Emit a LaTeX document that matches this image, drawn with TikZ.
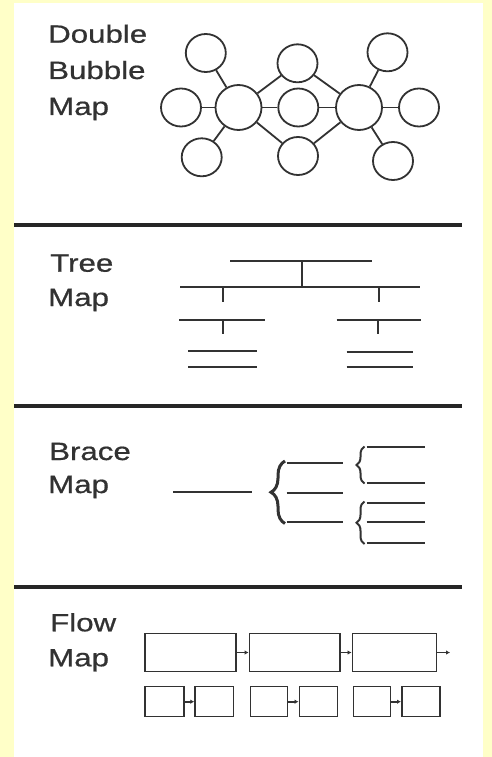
\documentclass[tikz,border=0pt]{standalone}
\usepackage{fontspec}
\setmainfont{Liberation Sans}
\newfontfamily\lblfont[FakeBold=0.6]{Liberation Sans}
\usepackage{graphicx}
\usetikzlibrary{shapes.geometric,decorations.pathreplacing,arrows.meta}
\definecolor{bgy}{RGB}{255,255,200}
\definecolor{ink}{RGB}{50,50,50}
\begin{document}
\begin{tikzpicture}[x=1pt,y=-1pt,
  lbl/.style={anchor=base west, inner sep=0, font=\lblfont\fontsize{25}{30}\selectfont, text=ink},
  bub/.style={ellipse, draw=ink, line width=1.8pt, inner sep=0, minimum width=40pt, minimum height=38pt},
  bigbub/.style={bub, minimum width=46pt, minimum height=45pt},
  conn/.style={draw=ink, line width=1.8pt},
  sepline/.style={line width=4.5pt, draw=black!85},
  treeline/.style={line width=1.8pt, draw=ink},
  bracepath/.style={draw=ink, decorate, decoration={brace, amplitude=#1}},
  flowbox/.style={rectangle, draw=ink, line width=1.5pt, inner sep=0},
  flowarrow/.style={draw=ink, line width=1.8pt, -{Latex[length=4pt,width=4.5pt]}}
  ]
\useasboundingbox (0,0) rectangle (492,757);
\fill[bgy] (0,0) rectangle (492,757);
\fill[white] (14,3) rectangle (483,757);

% ---------- Double Bubble Map ----------
\node[lbl] (db1) at (48,42.7) {\scalebox{1.25}[1]{Double}};
\node[lbl] (db2) at (48,79) {\scalebox{1.25}[1]{Bubble}};
\node[lbl] (db3) at (48,115) {\scalebox{1.25}[1]{Map}};

\node[bigbub] (cl) at (238.5,107.5) {};
\node[bigbub] (cr) at (359,107.5) {};
\node[bub] (mc) at (298.3,107.5) {};
\node[bub] (mt) at (297.5,63.3) {};
\node[bub] (mb) at (298,156) {};
\node[bub] (lt) at (205.8,53) {};
\node[bub] (lm) at (181,107.5) {};
\node[bub] (lb) at (201.7,157.3) {};
\node[bub] (rt) at (387.5,52.3) {};
\node[bub] (rm) at (419,107.5) {};
\node[bub] (rb) at (393,161) {};
\foreach \a in {lt,lm,lb,mt,mc,mb}{\draw[conn] (cl) -- (\a);}
\foreach \a in {rt,rm,rb,mt,mc,mb}{\draw[conn] (cr) -- (\a);}

% ---------- separators ----------
\draw[sepline] (14,225) -- (462,225);
\draw[sepline] (14,406) -- (462,406);
\draw[sepline] (14,587) -- (462,587);

% ---------- Tree Map ----------
\node[lbl] (tr1) at (50,271.7) {\scalebox{1.25}[1]{Tree}};
\node[lbl] (tr2) at (48,306) {\scalebox{1.25}[1]{Map}};
\draw[treeline] (230,261) -- (372,261);
\draw[treeline] (302,261) -- (302,287);
\draw[treeline] (180,287) -- (420,287);
\draw[treeline] (223.3,287) -- (223.3,301.7);
\draw[treeline] (379.3,287) -- (379.3,301.7);
\draw[treeline] (179.3,320) -- (265,320);
\draw[treeline] (223.3,320) -- (223.3,334);
\draw[treeline] (336.7,320) -- (420.7,320);
\draw[treeline] (378.3,320) -- (378.3,334);
\draw[treeline] (188.3,351.3) -- (257.3,351.3);
\draw[treeline] (188.3,366.7) -- (257.3,366.7);
\draw[treeline] (346.7,352) -- (413.3,352);
\draw[treeline] (346.7,367.3) -- (413.3,367.3);

% ---------- Brace Map ----------
\node[lbl] (br1) at (49,460) {\scalebox{1.25}[1]{Brace}};
\node[lbl] (br2) at (48,493) {\scalebox{1.25}[1]{Map}};
\draw[treeline] (173.3,491.7) -- (251.7,491.7);
\draw[bracepath=14pt, line width=3pt] (285,523.5) -- (285,461);
\draw[treeline] (286.7,462.7) -- (343.3,462.7);
\draw[treeline] (286.7,492.7) -- (343.3,492.7);
\draw[treeline] (286.7,521.7) -- (343.3,521.7);
\draw[bracepath=8pt, line width=2pt] (364.5,483.5) -- (364.5,446.5);
\draw[bracepath=8pt, line width=2pt] (364.5,544) -- (364.5,501.5);
\draw[treeline] (366.7,447.3) -- (425,447.3);
\draw[treeline] (366.7,482.7) -- (425,482.7);
\draw[treeline] (366.7,502.7) -- (425,502.7);
\draw[treeline] (366.7,522.3) -- (425,522.3);
\draw[treeline] (366.7,542.7) -- (425,542.7);

% ---------- Flow Map ----------
\node[lbl] (fl1) at (50,631.3) {\scalebox{1.25}[1]{Flow}};
\node[lbl] (fl2) at (48,666.3) {\scalebox{1.25}[1]{Map}};
\node[flowbox, minimum width=91pt, minimum height=38.4pt] (f1) at (190.5,652.5) {};
\node[flowbox, minimum width=90.7pt, minimum height=38.4pt] (f2) at (294.7,652.5) {};
\node[flowbox, minimum width=84.4pt, minimum height=38.4pt] (f3) at (394.5,652.5) {};
\coordinate (fend) at (450,652.5);
\draw[flowarrow] (f1) -- (f2);
\draw[flowarrow] (f2) -- (f3);
\draw[flowarrow] (f3.east) -- (fend);
\node[flowbox, minimum width=39pt, minimum height=30pt] (s1) at (164.5,701.7) {};
\node[flowbox, minimum width=38.3pt, minimum height=30pt] (s2) at (214.2,701.7) {};
\node[flowbox, minimum width=36.7pt, minimum height=30pt] (s3) at (269,701.7) {};
\node[flowbox, minimum width=38.4pt, minimum height=30pt] (s4) at (318.5,701.7) {};
\node[flowbox, minimum width=37.4pt, minimum height=30pt] (s5) at (372,701.7) {};
\node[flowbox, minimum width=38.3pt, minimum height=30pt] (s6) at (420.9,701.7) {};
\draw[flowarrow] (s1) -- (s2);
\draw[flowarrow] (s3) -- (s4);
\draw[flowarrow] (s5) -- (s6);
\end{tikzpicture}
\end{document}
